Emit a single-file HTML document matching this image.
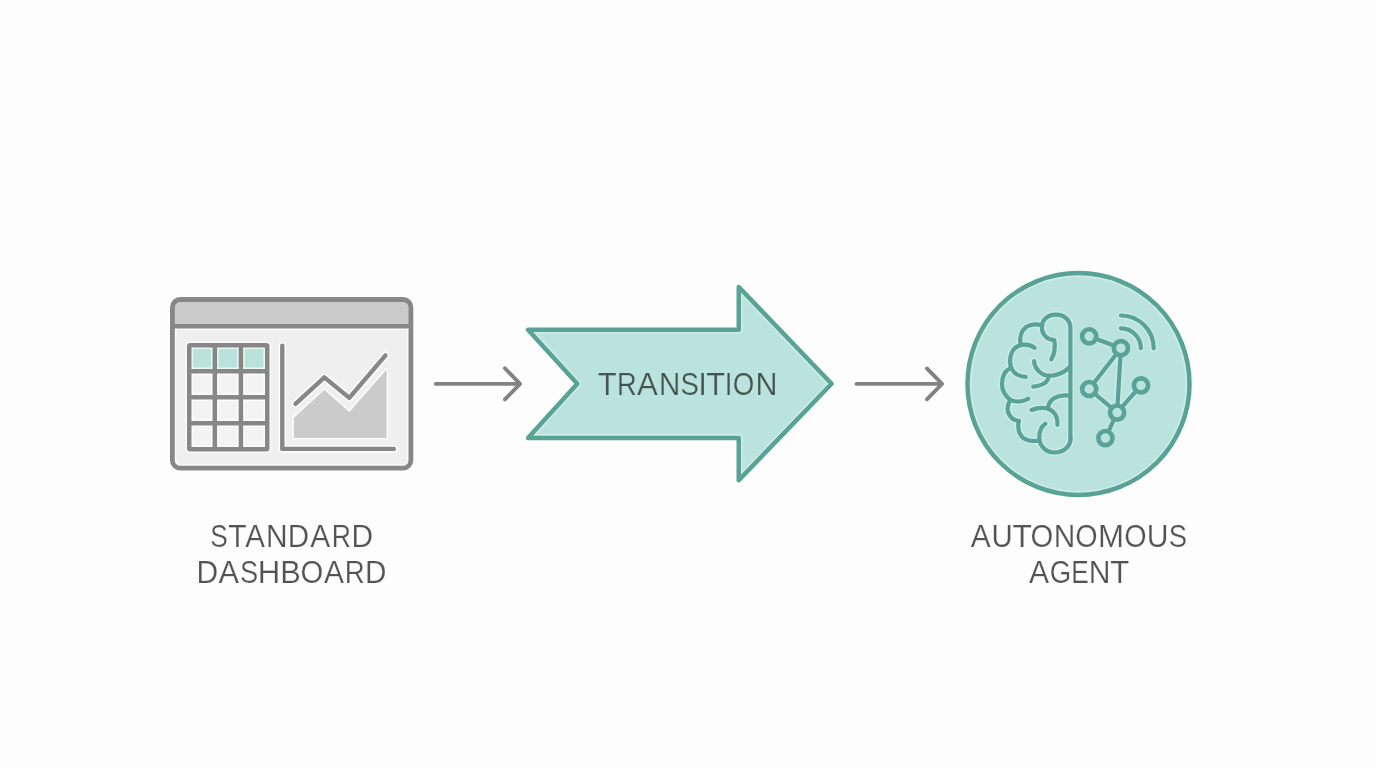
<!DOCTYPE html>
<html>
<head>
<meta charset="utf-8">
<style>
html,body{margin:0;padding:0;background:#fdfdfd;width:1376px;height:768px;overflow:hidden;}
svg{display:block;position:absolute;left:0;top:0;}
text{font-family:"Liberation Sans",sans-serif;}
</style>
</head>
<body>
<svg width="1376" height="768" viewBox="0 0 1376 768" style="will-change:transform">
<rect x="0" y="0" width="1376" height="768" fill="#fdfdfd"/>
<path d="M172.4 326.3 V460.4 a7.8 7.8 0 0 0 7.8 7.8 H403.1 a7.8 7.8 0 0 0 7.8 -7.8 V326.3 Z" fill="#efefef"/>
<rect x="189.25" y="345.25" width="78" height="104" fill="#f3f3f3"/>
<rect x="189.25" y="345.25" width="78" height="26" fill="#b8e2da"/>
<g fill="none" stroke="#ffffff" stroke-opacity="0.75" stroke-width="3.2" stroke-linejoin="round"><polygon points="293.8,417.8 324.4,390.1 349.3,411.9 386.6,369.6 386.6,438 293.8,438"/></g>
<polygon points="293.8,417.8 324.4,390.1 349.3,411.9 386.6,369.6 386.6,438 293.8,438" fill="#cbcbcb"/>
<g fill="none" stroke="#ffffff" stroke-opacity="0.6" stroke-width="8.0" stroke-linecap="round" stroke-linejoin="round"><rect x="172.4" y="299.5" width="238.5" height="168.7" rx="7.8"/></g>
<g fill="none" stroke="#ffffff" stroke-opacity="0.6" stroke-width="7.7" stroke-linecap="butt" stroke-linejoin="round"><line x1="172.4" y1="326.3" x2="410.9" y2="326.3"/></g>
<g fill="none" stroke="#ffffff" stroke-opacity="0.7" stroke-width="7.7" stroke-linecap="butt" stroke-linejoin="miter"><rect x="189.25" y="345.25" width="78" height="104" rx="1"/><line x1="214.8" y1="345.25" x2="214.8" y2="449.25"/><line x1="240.9" y1="345.25" x2="240.9" y2="449.25"/><line x1="189.25" y1="371.25" x2="267.25" y2="371.25"/><line x1="189.25" y1="397.25" x2="267.25" y2="397.25"/><line x1="189.25" y1="423.25" x2="267.25" y2="423.25"/></g>
<g fill="none" stroke="#ffffff" stroke-opacity="0.75" stroke-width="7.6000000000000005" stroke-linecap="round" stroke-linejoin="round"><path d="M282.3 345.6 V448.9 H393.8"/><polyline points="295.5,403.8 324.4,377.4 349.3,397.9 385.5,355.4"/></g>
<path d="M172.4 326.3 V307.3 a7.8 7.8 0 0 1 7.8 -7.8 H403.1 a7.8 7.8 0 0 1 7.8 7.8 V326.3 Z" fill="#cacaca"/>
<g fill="none" stroke="#878787" stroke-width="4.8" stroke-linecap="round" stroke-linejoin="round"><rect x="172.4" y="299.5" width="238.5" height="168.7" rx="7.8"/></g>
<g fill="none" stroke="#878787" stroke-width="4.5" stroke-linecap="butt" stroke-linejoin="round"><line x1="172.4" y1="326.3" x2="410.9" y2="326.3"/></g>
<g fill="none" stroke="#878787" stroke-width="4.5" stroke-linecap="butt" stroke-linejoin="miter"><rect x="189.25" y="345.25" width="78" height="104" rx="1"/><line x1="214.8" y1="345.25" x2="214.8" y2="449.25"/><line x1="240.9" y1="345.25" x2="240.9" y2="449.25"/><line x1="189.25" y1="371.25" x2="267.25" y2="371.25"/><line x1="189.25" y1="397.25" x2="267.25" y2="397.25"/><line x1="189.25" y1="423.25" x2="267.25" y2="423.25"/></g>
<g fill="none" stroke="#878787" stroke-width="4.4" stroke-linecap="round" stroke-linejoin="round"><path d="M282.3 345.6 V448.9 H393.8"/><polyline points="295.5,403.8 324.4,377.4 349.3,397.9 385.5,355.4"/></g>
<g fill="none" stroke="#828282" stroke-width="3.8" stroke-linecap="round" stroke-linejoin="round"><path d="M435.8 383.9 H520.1 M504.9 368.2 L520.1 383.9 L504.9 399.4"/><path d="M856.5 383.9 H942.1 M926.9 368.4 L942.1 383.9 L926.9 399.4"/></g>
<polygon points="528,329.8 738.75,329.8 738.75,287 831.6,383.75 738.75,480.2 738.75,437.9 528,437.9 577.3,383.75" fill="#b9e3dc"/>
<g fill="none" stroke="#ffffff" stroke-opacity="0.3" stroke-width="8.0" stroke-linecap="round" stroke-linejoin="round">
<polygon points="528,329.8 738.75,329.8 738.75,287 831.6,383.75 738.75,480.2 738.75,437.9 528,437.9 577.3,383.75"/>
</g>
<g fill="none" stroke="#59a296" stroke-width="4.5" stroke-linecap="round" stroke-linejoin="round">
<polygon points="528,329.8 738.75,329.8 738.75,287 831.6,383.75 738.75,480.2 738.75,437.9 528,437.9 577.3,383.75"/>
</g>
<g font-size="31" fill="#46544f" stroke="#b9e3dc" stroke-width="0.2"><text transform="translate(607.45,394.8) scale(0.987,1)" x="-9.46" y="0">T</text><text transform="translate(627.30,394.8) scale(0.880,1)" x="-11.75" y="0">R</text><text transform="translate(647.45,394.8) scale(1.007,1)" x="-10.34" y="0">A</text><text transform="translate(669.55,394.8) scale(0.953,1)" x="-11.20" y="0">N</text><text transform="translate(689.65,394.8) scale(0.891,1)" x="-10.33" y="0">S</text><text transform="translate(702.45,394.8) scale(1.003,1)" x="-4.31" y="0">I</text><text transform="translate(715.60,394.8) scale(0.993,1)" x="-9.46" y="0">T</text><text transform="translate(728.60,394.8) scale(0.899,1)" x="-4.31" y="0">I</text><text transform="translate(743.45,394.8) scale(0.893,1)" x="-12.05" y="0">O</text><text transform="translate(766.60,394.8) scale(0.982,1)" x="-11.20" y="0">N</text></g>
<circle cx="1078.5" cy="384" r="111" fill="#b9e3dc"/>
<g fill="none" stroke="#ffffff" stroke-opacity="0.3" stroke-width="8.0" stroke-linecap="round" stroke-linejoin="round">
<circle cx="1078.5" cy="384" r="111"/>
</g>
<g fill="none" stroke="#59a296" stroke-width="4.5" stroke-linecap="round" stroke-linejoin="round">
<circle cx="1078.5" cy="384" r="111"/>
</g>
<g fill="none" stroke="#ffffff" stroke-opacity="0.25" stroke-width="7.2" stroke-linecap="round" stroke-linejoin="round">
<path d="M1070.4 440 V328 C1070.4 320 1064 314.7 1056 314.7 C1047.5 314.7 1041.8 320 1041.8 327 C1041.8 334.5 1047.5 340.1 1054.3 340.1 Q1056.2 351 1051.3 359.4"/>
<path d="M1042.4 325.3 C1038 324 1031 324 1026 327 C1021 331 1019.5 338 1020.5 344.6"/>
<path d="M1034.6 347.7 C1028 343 1019 344 1014 349 C1009 355 1009 366 1013 371 C1016 375 1021 376.5 1025.7 376.9"/>
<path d="M1009.6 368.5 C1005 371 1002 377 1002 384 C1002 392 1006 397 1011.6 400.5 C1016 402 1023 402 1028.2 398.8"/>
<path d="M1009.4 401.6 C1007 406 1007 412 1009.4 414.8 C1011 418 1015 420.5 1018.8 420.9"/>
<path d="M1018.8 420.9 C1017.5 428 1019 435 1024 438.5 C1028 441 1033 441.2 1037.5 440.9"/>
<path d="M1070.6 438 C1070.6 447 1063 452.5 1054.5 452.5 C1046 452.5 1039.3 446 1039.3 437.5 C1039.3 431 1042 426 1045.4 423.7"/>
<path d="M1034.1 361.2 C1035 370 1042 375.8 1049.5 375.8 C1058 375.8 1065 372 1070.2 366.5"/>
<path d="M1048.8 375.5 C1048.5 381 1044 385.5 1033.2 386.6"/>
<path d="M1068.5 395.6 C1058 394.5 1049 399 1048.1 407.5"/>
<path d="M1031.5 409.9 C1041 406.5 1050 407.5 1054.8 413.7 C1057 416.5 1057.5 420 1057.5 424.8"/>
</g>
<g fill="none" stroke="#59a296" stroke-width="4.2" stroke-linecap="round" stroke-linejoin="round">
<path d="M1070.4 440 V328 C1070.4 320 1064 314.7 1056 314.7 C1047.5 314.7 1041.8 320 1041.8 327 C1041.8 334.5 1047.5 340.1 1054.3 340.1 Q1056.2 351 1051.3 359.4"/>
<path d="M1042.4 325.3 C1038 324 1031 324 1026 327 C1021 331 1019.5 338 1020.5 344.6"/>
<path d="M1034.6 347.7 C1028 343 1019 344 1014 349 C1009 355 1009 366 1013 371 C1016 375 1021 376.5 1025.7 376.9"/>
<path d="M1009.6 368.5 C1005 371 1002 377 1002 384 C1002 392 1006 397 1011.6 400.5 C1016 402 1023 402 1028.2 398.8"/>
<path d="M1009.4 401.6 C1007 406 1007 412 1009.4 414.8 C1011 418 1015 420.5 1018.8 420.9"/>
<path d="M1018.8 420.9 C1017.5 428 1019 435 1024 438.5 C1028 441 1033 441.2 1037.5 440.9"/>
<path d="M1070.6 438 C1070.6 447 1063 452.5 1054.5 452.5 C1046 452.5 1039.3 446 1039.3 437.5 C1039.3 431 1042 426 1045.4 423.7"/>
<path d="M1034.1 361.2 C1035 370 1042 375.8 1049.5 375.8 C1058 375.8 1065 372 1070.2 366.5"/>
<path d="M1048.8 375.5 C1048.5 381 1044 385.5 1033.2 386.6"/>
<path d="M1068.5 395.6 C1058 394.5 1049 399 1048.1 407.5"/>
<path d="M1031.5 409.9 C1041 406.5 1050 407.5 1054.8 413.7 C1057 416.5 1057.5 420 1057.5 424.8"/>
</g>
<g fill="none" stroke="#ffffff" stroke-opacity="0.25" stroke-width="7.2" stroke-linecap="round" stroke-linejoin="round">
<path d="M1120.9 328.3 A19.9 19.9 0 0 1 1140.8 348.2"/>
<path d="M1120.9 315.5 A32.8 32.8 0 0 1 1153.7 348.3"/>
<line x1="1089.2" y1="336.3" x2="1120.9" y2="348.2"/>
<line x1="1120.9" y1="348.2" x2="1089.2" y2="389"/>
<line x1="1120.9" y1="348.2" x2="1117.1" y2="412.6"/>
<line x1="1089.2" y1="389" x2="1117.1" y2="412.6"/>
<line x1="1141" y1="385.4" x2="1117.1" y2="412.6"/>
<line x1="1117.1" y1="412.6" x2="1105.4" y2="438.1"/>
</g>
<g fill="none" stroke="#59a296" stroke-width="4.2" stroke-linecap="round" stroke-linejoin="round">
<path d="M1120.9 328.3 A19.9 19.9 0 0 1 1140.8 348.2"/>
<path d="M1120.9 315.5 A32.8 32.8 0 0 1 1153.7 348.3"/>
<line x1="1089.2" y1="336.3" x2="1120.9" y2="348.2"/>
<line x1="1120.9" y1="348.2" x2="1089.2" y2="389"/>
<line x1="1120.9" y1="348.2" x2="1117.1" y2="412.6"/>
<line x1="1089.2" y1="389" x2="1117.1" y2="412.6"/>
<line x1="1141" y1="385.4" x2="1117.1" y2="412.6"/>
<line x1="1117.1" y1="412.6" x2="1105.4" y2="438.1"/>
</g>
<g fill="#b9e3dc" stroke="#59a296" stroke-width="4.6"><circle cx="1089.2" cy="336.3" r="7.05"/><circle cx="1120.9" cy="348.2" r="7.05"/><circle cx="1089.2" cy="389" r="7.05"/><circle cx="1141" cy="385.4" r="7.05"/><circle cx="1117.1" cy="412.6" r="7.05"/><circle cx="1105.4" cy="438.1" r="7.05"/></g>
<g font-size="30.5" fill="#535353" stroke="#fdfdfd" stroke-width="0.2"><text transform="translate(219.05,546.7) scale(0.860,1)" x="-10.16" y="0">S</text><text transform="translate(237.40,546.7) scale(0.986,1)" x="-9.31" y="0">T</text><text transform="translate(255.00,546.7) scale(0.969,1)" x="-10.17" y="0">A</text><text transform="translate(276.75,546.7) scale(0.980,1)" x="-11.02" y="0">N</text><text transform="translate(298.85,546.7) scale(0.969,1)" x="-11.53" y="0">D</text><text transform="translate(320.15,546.7) scale(0.984,1)" x="-10.17" y="0">A</text><text transform="translate(341.80,546.7) scale(0.872,1)" x="-11.56" y="0">R</text><text transform="translate(362.85,546.7) scale(0.980,1)" x="-11.53" y="0">D</text></g>
<g font-size="30.5" fill="#535353" stroke="#fdfdfd" stroke-width="0.2"><text transform="translate(207.90,582.5) scale(0.985,1)" x="-11.53" y="0">D</text><text transform="translate(228.80,582.5) scale(1.009,1)" x="-10.17" y="0">A</text><text transform="translate(248.95,582.5) scale(0.894,1)" x="-10.16" y="0">S</text><text transform="translate(269.10,582.5) scale(1.021,1)" x="-11.02" y="0">H</text><text transform="translate(291.00,582.5) scale(1.010,1)" x="-10.62" y="0">B</text><text transform="translate(312.00,582.5) scale(0.961,1)" x="-11.85" y="0">O</text><text transform="translate(333.95,582.5) scale(0.984,1)" x="-10.17" y="0">A</text><text transform="translate(355.30,582.5) scale(0.906,1)" x="-11.56" y="0">R</text><text transform="translate(376.30,582.5) scale(0.974,1)" x="-11.53" y="0">D</text></g>
<g font-size="30.5" fill="#535353" stroke="#fdfdfd" stroke-width="0.2"><text transform="translate(980.60,546.9) scale(0.979,1)" x="-10.17" y="0">A</text><text transform="translate(1002.15,546.9) scale(0.964,1)" x="-11.01" y="0">U</text><text transform="translate(1022.05,546.9) scale(1.038,1)" x="-9.31" y="0">T</text><text transform="translate(1041.90,546.9) scale(0.961,1)" x="-11.85" y="0">O</text><text transform="translate(1064.45,546.9) scale(0.980,1)" x="-11.02" y="0">N</text><text transform="translate(1086.50,546.9) scale(0.941,1)" x="-11.85" y="0">O</text><text transform="translate(1110.95,546.9) scale(1.024,1)" x="-12.70" y="0">M</text><text transform="translate(1135.40,546.9) scale(0.941,1)" x="-11.85" y="0">O</text><text transform="translate(1157.55,546.9) scale(0.987,1)" x="-11.01" y="0">U</text><text transform="translate(1177.80,546.9) scale(0.900,1)" x="-10.16" y="0">S</text></g>
<g font-size="30.5" fill="#535353" stroke="#fdfdfd" stroke-width="0.2"><text transform="translate(1039.00,582.7) scale(0.989,1)" x="-10.17" y="0">A</text><text transform="translate(1060.00,582.7) scale(0.904,1)" x="-11.49" y="0">G</text><text transform="translate(1080.40,582.7) scale(0.860,1)" x="-10.77" y="0">E</text><text transform="translate(1099.70,582.7) scale(0.986,1)" x="-11.02" y="0">N</text><text transform="translate(1119.70,582.7) scale(1.021,1)" x="-9.31" y="0">T</text></g>
</svg>
</body>
</html>
